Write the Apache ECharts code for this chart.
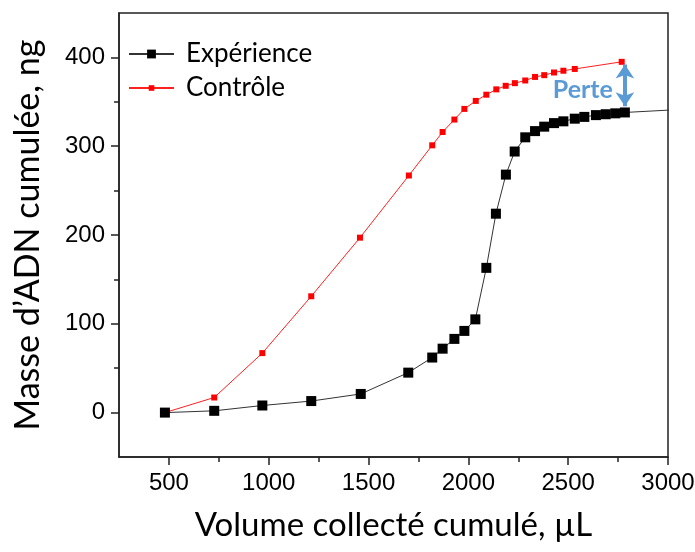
<!DOCTYPE html>
<html>
<head>
<meta charset="utf-8">
<script src="https://cdn.jsdelivr.net/npm/echarts@6/dist/echarts.min.js"></script>
<style>html,body{margin:0;padding:0;background:#fff}#c{width:695px;height:552px}</style>
</head>
<body>
<div id="c"></div>
<script>
// ---- data ----
const expX = [480, 727, 968, 1213, 1461, 1699, 1819, 1871, 1930, 1980, 2035, 2090, 2138, 2188, 2232, 2285, 2334, 2380, 2429, 2476, 2533, 2581, 2639, 2688, 2736, 2784, 3200];
const expY = [0, 2, 8, 13, 21, 45, 62, 72, 83, 92, 105, 163, 224, 268, 294, 310, 317, 322, 326, 328, 331, 333, 335, 336, 337, 338, 343];
const ctrlX = [480, 727, 968, 1213, 1457, 1702, 1819, 1871, 1930, 1980, 2037, 2090, 2140, 2187, 2233, 2285, 2334, 2380, 2429, 2476, 2533, 2768];
const ctrlY = [0, 17, 67, 131, 197, 267, 301, 316, 330, 342, 351, 358, 364, 368, 371, 374, 378, 380, 383, 385, 387, 395];
const xMajor = [500, 1000, 1500, 2000, 2500, 3000];
const xMinor = [750, 1250, 1750, 2250, 2750];
const yMajor = [0, 100, 200, 300, 400];
const yMinor = [50, 150, 250, 350];
const seriesNames = ['Expérience', 'Contrôle'];
const xTitle = 'Volume collecté cumulé, µL';
const yTitle = 'Masse d’ADN cumulée, ng';
const lossLabel = 'Perte';
const lossX = 2784, lossTop = 392, lossBottom = 345;

const zip = (a, b) => a.map((v, i) => [v, b[i]]);
const chart = echarts.init(document.getElementById('c'), null, {renderer: 'canvas'});
const axisCol = '#222';
const tickFont = 'Liberation Sans';
const titleFont = 'Lato';
const plain = v => String(v);

const option = {
  animation: false,
  grid: {left: 119, right: 27, top: 13, bottom: 95, containLabel: false, outerBoundsMode: 'none',
         show: true, borderColor: axisCol, borderWidth: 1.5, backgroundColor: 'transparent'},
  legend: [
    {data: [seriesNames[0]], left: 123, top: 36, itemWidth: 45, itemHeight: 11,
     textStyle: {fontFamily: titleFont, fontSize: 26, color: '#000', padding: [0, 0, 0, 7]}},
    {data: [seriesNames[1]], left: 123, top: 70, itemWidth: 45, itemHeight: 7,
     textStyle: {fontFamily: titleFont, fontSize: 26, color: '#000', padding: [0, 0, 0, 7]}}
  ],
  xAxis: [
    {type: 'value', min: 250, max: 3000, position: 'bottom',
     name: xTitle, nameLocation: 'middle', nameGap: 52,
     nameTextStyle: {fontFamily: titleFont, fontSize: 33, color: '#000'},
     axisLine: {show: true, onZero: false, lineStyle: {color: axisCol, width: 1.5}},
     axisTick: {show: true, customValues: xMajor, length: 8, lineStyle: {color: axisCol, width: 1.5}},
     axisLabel: {customValues: xMajor, formatter: plain, margin: 14, fontFamily: tickFont, fontSize: 24, color: '#000'},
     splitLine: {show: false}},
    {type: 'value', min: 250, max: 3000, position: 'bottom',
     axisLine: {show: false, onZero: false},
     axisTick: {show: true, customValues: xMinor, length: 5, lineStyle: {color: axisCol, width: 1.5}},
     axisLabel: {show: false}, splitLine: {show: false}}
  ],
  yAxis: [
    {type: 'value', min: -50, max: 450, position: 'left',
     name: yTitle, nameLocation: 'middle', nameGap: 74,
     nameTextStyle: {fontFamily: titleFont, fontSize: 34, color: '#000'},
     axisLine: {show: true, onZero: false, lineStyle: {color: axisCol, width: 1.5}},
     axisTick: {show: true, customValues: yMajor, length: 8, lineStyle: {color: axisCol, width: 1.5}},
     axisLabel: {customValues: yMajor, formatter: plain, margin: 14, fontFamily: tickFont, fontSize: 24, color: '#000'},
     splitLine: {show: false}},
    {type: 'value', min: -50, max: 450, position: 'left',
     axisLine: {show: false, onZero: false},
     axisTick: {show: true, customValues: yMinor, length: 5, lineStyle: {color: axisCol, width: 1.5}},
     axisLabel: {show: false}, splitLine: {show: false}}
  ],
  series: [
    {name: seriesNames[0], type: 'line', xAxisIndex: 0, yAxisIndex: 0, data: zip(expX, expY),
     symbol: 'rect', symbolSize: 10, clip: true,
     lineStyle: {color: '#333', width: 1}, itemStyle: {color: '#000'}, z: 5},
    {name: seriesNames[1], type: 'line', xAxisIndex: 0, yAxisIndex: 0, data: zip(ctrlX, ctrlY),
     symbol: 'rect', symbolSize: 6, clip: true,
     lineStyle: {color: '#ff2020', width: 1}, itemStyle: {color: '#ff0000'}, z: 4,
     markLine: {silent: true, symbol: ['arrow', 'arrow'], symbolSize: [14, 14], label: {show: false},
       lineStyle: {color: '#5B9BD5', width: 4, type: 'solid'},
       data: [[{coord: [lossX, lossTop]}, {coord: [lossX, lossBottom]}]]}}
  ]
};
chart.setOption(option);
const mid = chart.convertToPixel({gridIndex: 0}, [lossX, (lossTop + lossBottom) / 2]);
chart.setOption({graphic: [{type: 'text', x: mid[0] - 12, y: mid[1] + 5,
  style: {text: lossLabel, fontFamily: titleFont, fontWeight: 'bold', fontSize: 25, fill: '#5B9BD5', align: 'right', verticalAlign: 'middle'}}]});
</script>
</body>
</html>
